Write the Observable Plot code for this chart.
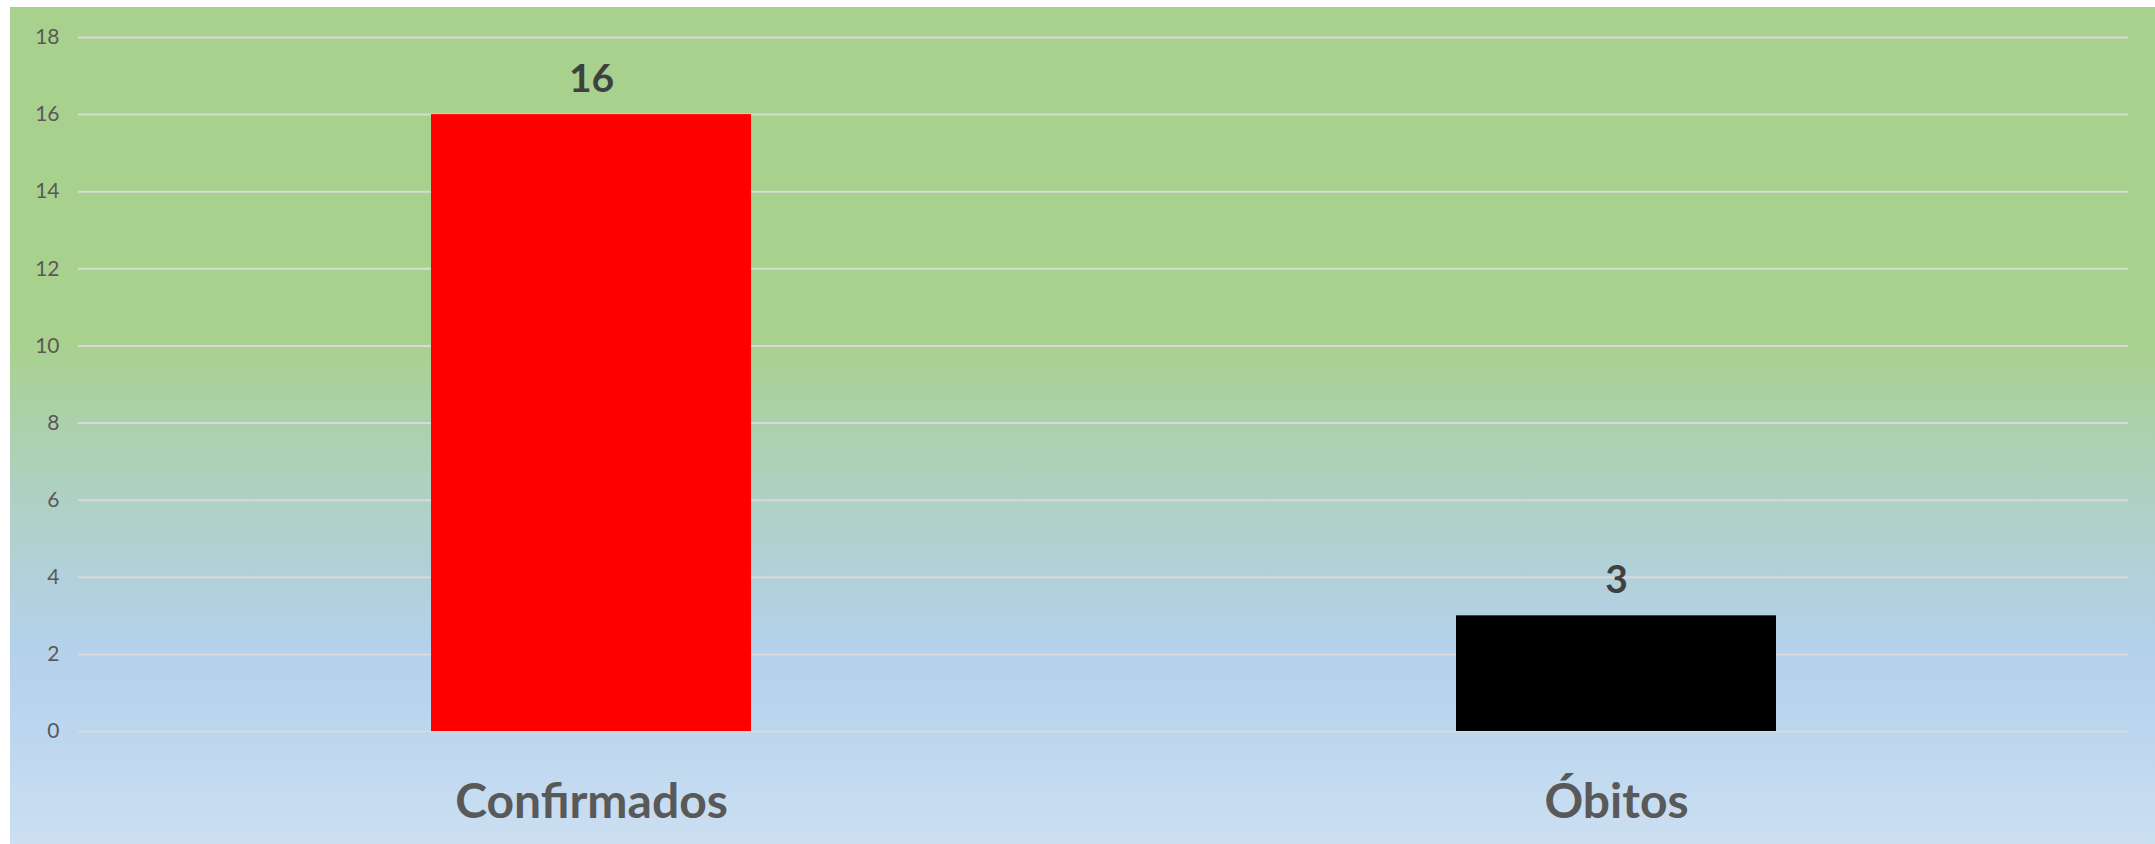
<!DOCTYPE html>
<html>
<head>
<meta charset="utf-8">
<script src="https://cdn.jsdelivr.net/npm/d3@7"></script>
<script src="https://cdn.jsdelivr.net/npm/@observablehq/plot@0.6"></script>
<style>
  html, body { margin: 0; padding: 0; background: #ffffff; }
  #chart { position: absolute; left: 10px; top: 7px; width: 2145px; height: 837px;
    background: linear-gradient(to bottom, #A9D18E 0%, #A9D18E 40%, #AFD0C3 58%, #B4D1EA 76%, #BBD6EE 86%, #CCDFF2 100%); }
  #chart svg { background: transparent; display: block; }
</style>
</head>
<body>
<div id="chart"></div>
<script>
const categories = ["Confirmados", "Óbitos"];
const values = [16, 3];
const barColors = ["#FF0000", "#000000"];
const yTicks = [0, 2, 4, 6, 8, 10, 12, 14, 16, 18];

const data = categories.map((c, i) => ({category: c, value: values[i], color: barColors[i]}));

const chart = Plot.plot({
  width: 2145,
  height: 837,
  marginTop: 30,
  marginBottom: 113,
  marginLeft: 68,
  marginRight: 27,
  style: {background: "transparent", fontFamily: "Lato, 'Open Sans', sans-serif"},
  x: {domain: categories, paddingInner: 0.688, paddingOuter: 0.344, label: null},
  y: {domain: [0, 18], label: null},
  marks: [
    Plot.ruleY(yTicks, {stroke: "#D9D9D9", strokeWidth: 2, strokeOpacity: 1}),
    Plot.barY(data, {x: "category", y: "value", fill: "color"}),
    Plot.text(data, {x: "category", y: "value", text: d => String(d.value), dy: -35,
      fontSize: 39, fontWeight: "bold", fill: "#404040", textAnchor: "middle"}),
    Plot.axisY({ticks: yTicks, tickSize: 0, tickPadding: 19, fontSize: 21, color: "#595959", label: null, tickFormat: d => String(d)}),
    Plot.axisX({tickSize: 0, tickPadding: 52, fontSize: 48, fontWeight: "bold", color: "#595959", label: null})
  ]
});
document.getElementById("chart").appendChild(chart);
</script>
</body>
</html>
